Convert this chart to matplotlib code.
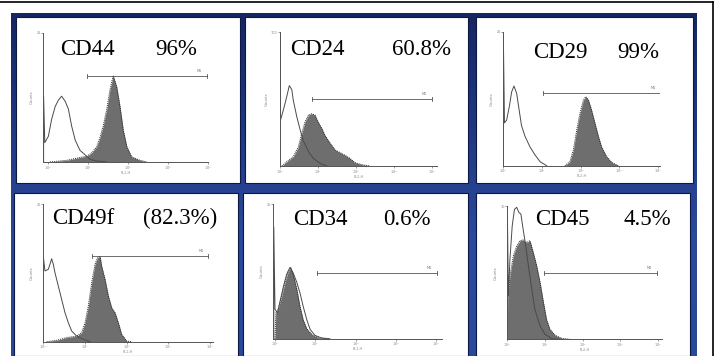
import matplotlib
matplotlib.use("Agg")
import matplotlib.pyplot as plt
import numpy as np
from matplotlib.colors import LinearSegmentedColormap
from matplotlib.patches import Rectangle

W, H = 718, 356

MARKERS = ["CD44", "CD24", "CD29", "CD49f", "CD34", "CD45"]
PERCENTS = ["96%", "60.8%", "99%", "(82.3%)", "0.6%", "4.5%"]
CHANNELS = ["FL1-H", "FL2-H", "FL2-H", "FL1-H", "FL1-H", "FL2-H"]
YMAX_LABELS = ["25", "100", "25", "25", "25", "30"]

# gate marker M1: start, end (log decades) and level (fraction of axis height)
GATE_START = [0.98, 0.83, 1.03, 1.16, 1.05, 0.97]
GATE_END = [3.97, 3.99, 4.05, 3.96, 4.02, 3.96]
GATE_LEVEL = [0.67, 0.50, 0.545, 0.624, 0.49, 0.50]

# open histogram = isotype control, filled histogram = stained sample
CD44_CTRL_X = [-0.11, -0.11, -0.08, 0.01, 0.09, 0.18, 0.26, 0.34, 0.43, 0.51, 0.59, 0.68, 0.80, 0.93, 1.05, 1.22, 1.47]
CD44_CTRL_Y = [0.0, 0.51, 0.15, 0.20, 0.33, 0.43, 0.48, 0.51, 0.47, 0.41, 0.28, 0.17, 0.09, 0.055, 0.02, 0.008, 0.0]
CD44_STAIN_X = [0.05, 0.47, 0.80, 0.97, 1.09, 1.22, 1.30, 1.38, 1.47, 1.55, 1.63, 1.72, 1.80, 1.88, 1.97, 2.09, 2.30, 2.47]
CD44_STAIN_Y = [0.0, 0.013, 0.035, 0.045, 0.07, 0.12, 0.19, 0.28, 0.41, 0.56, 0.67, 0.58, 0.43, 0.25, 0.12, 0.04, 0.013, 0.0]

CD24_CTRL_X = [0.0, 0.0, 0.01, 0.09, 0.18, 0.245, 0.31, 0.35, 0.44, 0.53, 0.61, 0.75, 0.88, 1.05, 1.23]
CD24_CTRL_Y = [0.0, 1.0, 0.34, 0.42, 0.52, 0.60, 0.57, 0.49, 0.37, 0.27, 0.19, 0.107, 0.057, 0.02, 0.0]
CD24_STAIN_X = [0.05, 0.18, 0.35, 0.48, 0.57, 0.66, 0.75, 0.83, 0.92, 1.0, 1.1, 1.18, 1.32, 1.45, 1.58, 1.71, 1.84, 1.97, 2.15, 2.37]
CD24_STAIN_Y = [0.0, 0.032, 0.07, 0.14, 0.24, 0.33, 0.38, 0.39, 0.38, 0.33, 0.28, 0.23, 0.17, 0.12, 0.10, 0.08, 0.057, 0.025, 0.01, 0.0]

CD29_CTRL_X = [0.0, 0.0, 0.03, 0.086, 0.155, 0.215, 0.276, 0.345, 0.41, 0.47, 0.56, 0.69, 0.82, 0.95, 1.12]
CD29_CTRL_Y = [0.0, 1.0, 0.32, 0.34, 0.44, 0.55, 0.595, 0.54, 0.415, 0.30, 0.22, 0.14, 0.08, 0.03, 0.0]
CD29_STAIN_X = [1.59, 1.72, 1.81, 1.90, 1.98, 2.07, 2.13, 2.20, 2.28, 2.37, 2.46, 2.54, 2.67, 2.80, 2.97]
CD29_STAIN_Y = [0.0, 0.03, 0.117, 0.27, 0.39, 0.49, 0.515, 0.49, 0.415, 0.316, 0.216, 0.14, 0.067, 0.025, 0.0]

CD49F_CTRL_X = [0.0, 0.0, 0.04, 0.12, 0.16, 0.20, 0.24, 0.28, 0.36, 0.44, 0.52, 0.60, 0.68, 0.80, 0.96, 1.12]
CD49F_CTRL_Y = [0.0, 0.62, 0.515, 0.527, 0.563, 0.604, 0.563, 0.502, 0.405, 0.308, 0.211, 0.138, 0.078, 0.041, 0.017, 0.0]
CD49F_STAIN_X = [0.08, 0.32, 0.56, 0.80, 0.92, 1.0, 1.08, 1.16, 1.24, 1.30, 1.36, 1.40, 1.48, 1.56, 1.64, 1.72, 1.80, 1.88, 2.0, 2.12]
CD49F_STAIN_Y = [0.0, 0.01, 0.03, 0.04, 0.066, 0.138, 0.26, 0.43, 0.563, 0.61, 0.624, 0.55, 0.454, 0.333, 0.248, 0.211, 0.138, 0.053, 0.005, 0.0]

CD34_CTRL_X = [-0.03, -0.03, 0.0, 0.06, 0.12, 0.21, 0.29, 0.37, 0.45, 0.54, 0.62, 0.70, 0.79, 0.87, 0.99, 1.16, 1.36]
CD34_CTRL_Y = [0.0, 0.83, 0.22, 0.19, 0.27, 0.39, 0.48, 0.53, 0.49, 0.42, 0.34, 0.24, 0.14, 0.07, 0.025, 0.005, 0.0]
CD34_STAIN_X = [0.0, 0.02, 0.08, 0.17, 0.25, 0.33, 0.39, 0.45, 0.54, 0.62, 0.70, 0.79, 0.91, 1.07, 1.28]
CD34_STAIN_Y = [0.0, 0.19, 0.22, 0.32, 0.42, 0.50, 0.53, 0.48, 0.37, 0.24, 0.14, 0.074, 0.032, 0.007, 0.0]

CD45_CTRL_X = [0.0, 0.0, 0.03, 0.07, 0.13, 0.19, 0.25, 0.31, 0.36, 0.42, 0.49, 0.56, 0.65, 0.73, 0.87, 1.0, 1.18, 1.40]
CD45_CTRL_Y = [0.0, 1.0, 0.325, 0.60, 0.85, 0.975, 0.99, 0.95, 0.94, 0.825, 0.70, 0.55, 0.375, 0.225, 0.10, 0.0375, 0.005, 0.0]
CD45_STAIN_X = [0.0, 0.01, 0.07, 0.16, 0.25, 0.34, 0.42, 0.51, 0.60, 0.69, 0.78, 0.87, 0.96, 1.04, 1.13, 1.27, 1.44, 1.66]
CD45_STAIN_Y = [0.0, 0.30, 0.475, 0.625, 0.70, 0.74, 0.745, 0.725, 0.74, 0.65, 0.55, 0.425, 0.275, 0.15, 0.075, 0.03, 0.0075, 0.0]

CTRL = [(CD44_CTRL_X, CD44_CTRL_Y), (CD24_CTRL_X, CD24_CTRL_Y), (CD29_CTRL_X, CD29_CTRL_Y),
        (CD49F_CTRL_X, CD49F_CTRL_Y), (CD34_CTRL_X, CD34_CTRL_Y), (CD45_CTRL_X, CD45_CTRL_Y)]
STAIN = [(CD44_STAIN_X, CD44_STAIN_Y), (CD24_STAIN_X, CD24_STAIN_Y), (CD29_STAIN_X, CD29_STAIN_Y),
         (CD49F_STAIN_X, CD49F_STAIN_Y), (CD34_STAIN_X, CD34_STAIN_Y), (CD45_STAIN_X, CD45_STAIN_Y)]

# layout in image pixels
# white card: x0, y0, x1, y1
CARDS = [(16, 17, 240, 183), (245, 17, 468, 183), (476, 17, 693, 183),
         (14, 193, 238, 356), (243, 193, 468, 356), (476, 193, 690, 356)]
# plot: axis left, 10^0 position, px per decade, top, bottom, right end
PLOTS = [(43.3, 48.0, 40.0, 33.0, 162.0, 208.0),
         (280.0, 280.0, 38.0, 32.0, 166.0, 437.0),
         (503.3, 503.3, 38.7, 31.7, 165.7, 660.0),
         (43.3, 43.3, 41.7, 204.3, 341.7, 213.0),
         (273.3, 275.0, 40.3, 204.3, 338.7, 442.0),
         (507.3, 507.3, 37.7, 206.0, 339.3, 662.0)]
# title: left of marker, left of percent, baseline
TITLES = [(60, 155, 55), (290, 392, 55), (533, 617, 58),
          (52, 143, 224), (293, 383, 225), (535, 623, 225)]


def fx(x):
    return x / W


def fy(y):
    return 1 - y / H


fig = plt.figure(figsize=(W / 100, H / 100), dpi=100)
fig.patch.set_facecolor("white")

bg = fig.add_axes([0, 0, 1, 1])
bg.set_xlim(0, W)
bg.set_ylim(H, 0)
bg.axis("off")

blue = LinearSegmentedColormap.from_list("slide", ["#152661", "#203882", "#2b4a9c", "#2a4899"])
grad = np.linspace(0, 1, 256).reshape(-1, 1)
bg.imshow(grad, cmap=blue, extent=(11, 697, 356, 13), aspect="auto", zorder=1)
for x0, y0, x1, y1 in CARDS:
    bg.add_patch(Rectangle((x0, y0), x1 - x0, y1 - y0, facecolor="white",
                           edgecolor="#0c1846", lw=0.8, zorder=2))
bg.plot([0, 712.5], [2, 2], color="black", lw=1.2, zorder=3)
bg.plot([712.5, 712.5], [2, H], color="black", lw=1.2, zorder=3)

for i in range(6):
    left, x0, dec, top, bottom, right = PLOTS[i]
    ax = fig.add_axes([fx(left), fy(bottom), fx(right - left), (bottom - top) / H])
    ax.patch.set_alpha(0)
    ax.set_xlim((left - x0) / dec, (right - x0) / dec)
    ax.set_ylim(0, 1)
    for s in ("top", "right"):
        ax.spines[s].set_visible(False)
    for s in ("left", "bottom"):
        ax.spines[s].set_color("#555555")
        ax.spines[s].set_linewidth(0.7)

    sx, sy = STAIN[i]
    ax.fill_between(sx, sy, color="#6e6e6e", lw=0)
    ax.plot(sx, sy, color="#222222", lw=0.7, ls=(0, (1, 1)))
    cx, cy = CTRL[i]
    ax.plot(cx, cy, color="#4a4a4a", lw=0.7)

    g0, g1, lv = GATE_START[i], GATE_END[i], GATE_LEVEL[i]
    ax.plot([g0, g1], [lv, lv], color="#555555", lw=0.6)
    ax.plot([g0, g0], [lv - 0.015, lv + 0.015], color="#555555", lw=0.6)
    ax.plot([g1, g1], [lv - 0.015, lv + 0.015], color="#555555", lw=0.6)
    ax.text(g1 - 0.12, lv + 0.02, "M1", fontsize=2.5, color="#777777", ha="right", va="bottom")

    ax.set_xticks(range(5), [f"$10^{k}$" for k in range(5)])
    ax.set_yticks([1], [YMAX_LABELS[i]])
    ax.tick_params(length=1.2, width=0.5, color="#777777", labelsize=2.5, labelcolor="#888888", pad=0.4)
    ax.set_xlabel(CHANNELS[i], fontsize=2.5, color="#888888")
    ax.xaxis.set_label_coords(0.5, -8.6 / (bottom - top))
    ax.set_ylabel("Counts", fontsize=2.8, color="#888888", labelpad=2)

    tx1, tx2, base = TITLES[i]
    fig.text(fx(tx1), fy(base), MARKERS[i], fontsize=16.5, family="Liberation Serif",
             ha="left", va="baseline")
    fig.text(fx(tx2), fy(base), PERCENTS[i], fontsize=16.5, family="Liberation Serif",
             ha="left", va="baseline")

fig.savefig("out.png", dpi=100)
plt.close(fig)
